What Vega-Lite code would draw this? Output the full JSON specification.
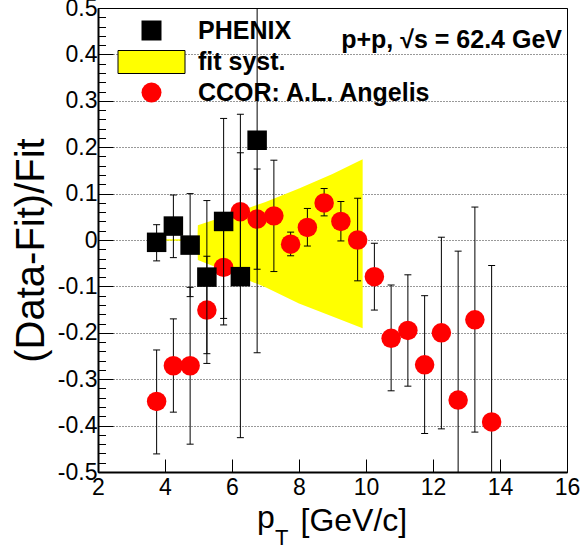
{
  "$schema": "https://vega.github.io/schema/vega-lite/v6.json",
  "width": 469,
  "height": 464,
  "autosize": {"type": "none"},
  "padding": {"left": 98, "top": 8, "right": 15, "bottom": 80},
  "background": "white",
  "config": {
    "view": {"stroke": "#000", "strokeWidth": 1},
    "font": "Liberation Sans",
    "legend": {
      "orient": "none",
      "legendX": 41,
      "legendY": 10,
      "padding": 0,
      "symbolSize": 400,
      "symbolOpacity": 1,
      "symbolStrokeWidth": 0,
      "labelFont": "Liberation Sans",
      "labelFontSize": 25,
      "labelFontWeight": "bold",
      "labelColor": "#000",
      "labelOffset": 34,
      "labelLimit": 0,
      "rowPadding": 4.5
    }
  },
  "resolve": {"axis": {"y": "independent"}},
  "datasets": {
    "phenix": [
      {"series": "PHENIX", "pT": 3.75, "val": -0.005, "lo": -0.045, "hi": 0.033},
      {"series": "PHENIX", "pT": 4.25, "val": 0.030, "lo": -0.038, "hi": 0.097},
      {"series": "PHENIX", "pT": 4.75, "val": -0.011, "lo": -0.122, "hi": 0.100},
      {"series": "PHENIX", "pT": 5.25, "val": -0.080, "lo": -0.245, "hi": 0.085},
      {"series": "PHENIX", "pT": 5.75, "val": 0.040, "lo": -0.183, "hi": 0.262},
      {"series": "PHENIX", "pT": 6.25, "val": -0.079, "lo": -0.426, "hi": 0.271},
      {"series": "PHENIX", "pT": 6.75, "val": 0.215, "lo": -0.243, "hi": 0.673}
    ],
    "ccor": [
      {"series": "CCOR: A.L. Angelis", "pT": 3.75, "val": -0.348, "lo": -0.461, "hi": -0.237},
      {"series": "CCOR: A.L. Angelis", "pT": 4.25, "val": -0.271, "lo": -0.371, "hi": -0.170},
      {"series": "CCOR: A.L. Angelis", "pT": 4.75, "val": -0.271, "lo": -0.440, "hi": -0.102},
      {"series": "CCOR: A.L. Angelis", "pT": 5.25, "val": -0.151, "lo": -0.266, "hi": -0.035},
      {"series": "CCOR: A.L. Angelis", "pT": 5.75, "val": -0.059, "lo": -0.169, "hi": 0.051},
      {"series": "CCOR: A.L. Angelis", "pT": 6.25, "val": 0.061, "lo": -0.066, "hi": 0.188},
      {"series": "CCOR: A.L. Angelis", "pT": 6.75, "val": 0.045, "lo": -0.063, "hi": 0.153},
      {"series": "CCOR: A.L. Angelis", "pT": 7.25, "val": 0.052, "lo": -0.068, "hi": 0.172},
      {"series": "CCOR: A.L. Angelis", "pT": 7.75, "val": -0.009, "lo": -0.034, "hi": 0.017},
      {"series": "CCOR: A.L. Angelis", "pT": 8.25, "val": 0.027, "lo": -0.013, "hi": 0.068},
      {"series": "CCOR: A.L. Angelis", "pT": 8.75, "val": 0.080, "lo": 0.052, "hi": 0.111},
      {"series": "CCOR: A.L. Angelis", "pT": 9.25, "val": 0.040, "lo": -0.002, "hi": 0.083},
      {"series": "CCOR: A.L. Angelis", "pT": 9.75, "val": 0.000, "lo": -0.088, "hi": 0.090},
      {"series": "CCOR: A.L. Angelis", "pT": 10.25, "val": -0.079, "lo": -0.151, "hi": -0.007},
      {"series": "CCOR: A.L. Angelis", "pT": 10.75, "val": -0.212, "lo": -0.325, "hi": -0.097},
      {"series": "CCOR: A.L. Angelis", "pT": 11.25, "val": -0.195, "lo": -0.315, "hi": -0.075},
      {"series": "CCOR: A.L. Angelis", "pT": 11.75, "val": -0.269, "lo": -0.417, "hi": -0.120},
      {"series": "CCOR: A.L. Angelis", "pT": 12.25, "val": -0.200, "lo": -0.407, "hi": 0.006},
      {"series": "CCOR: A.L. Angelis", "pT": 12.75, "val": -0.345, "lo": -0.666, "hi": -0.024},
      {"series": "CCOR: A.L. Angelis", "pT": 13.25, "val": -0.172, "lo": -0.414, "hi": 0.071},
      {"series": "CCOR: A.L. Angelis", "pT": 13.75, "val": -0.392, "lo": -0.730, "hi": -0.055}
    ],
    "band": [
      {"series": "fit syst.", "pT": 4.0, "lo": -0.0015, "hi": 0.0015},
      {"series": "fit syst.", "pT": 4.97, "lo": -0.0015, "hi": 0.0015},
      {"series": "fit syst.", "pT": 4.98, "lo": -0.043, "hi": 0.032},
      {"series": "fit syst.", "pT": 6.0, "lo": -0.072, "hi": 0.056},
      {"series": "fit syst.", "pT": 7.0, "lo": -0.102, "hi": 0.082},
      {"series": "fit syst.", "pT": 8.0, "lo": -0.137, "hi": 0.111},
      {"series": "fit syst.", "pT": 9.0, "lo": -0.165, "hi": 0.142},
      {"series": "fit syst.", "pT": 9.9, "lo": -0.190, "hi": 0.174}
    ]
  },
  "layer": [
    {
      "data": {"name": "band"},
      "mark": {"type": "area", "opacity": 1, "clip": true},
      "encoding": {
        "x": {
          "field": "pT",
          "type": "quantitative",
          "scale": {"domain": [2, 16], "nice": false, "zero": false},
          "axis": {
            "values": [2, 2.5, 3, 3.5, 4, 4.5, 5, 5.5, 6, 6.5, 7, 7.5, 8, 8.5, 9, 9.5, 10, 10.5, 11, 11.5, 12, 12.5, 13, 13.5, 14, 14.5, 15, 15.5, 16],
            "labelExpr": "datum.value % 2 == 0 ? format(datum.value, 'd') : ''",
            "labelFont": "Liberation Sans",
            "labelFontSize": 23,
            "labelColor": "#000",
            "labelPadding": 17,
            "labelOverlap": false,
            "labelFlush": false,
            "labelBound": false,
            "domainColor": "#000",
            "domainWidth": 2,
            "tickColor": "#000",
            "tickWidth": 1,
            "tickSize": {"condition": {"test": "datum.value % 2 == 0", "value": -13}, "value": -6.5},
            "grid": false,
            "title": "[GeV/c]",
            "titleFont": "Liberation Sans",
            "titleFontSize": 32,
            "titleFontWeight": "normal",
            "titleColor": "#000",
            "titleX": 202,
            "titleY": 58,
            "titleAlign": "left",
            "titleBaseline": "alphabetic"
          }
        },
        "y": {
          "field": "lo",
          "type": "quantitative",
          "scale": {"domain": [-0.5, 0.5], "nice": false, "zero": false},
          "axis": {
            "orient": "left",
            "values": [-0.5, -0.4, -0.3, -0.2, -0.1, 0, 0.1, 0.2, 0.3, 0.4, 0.5],
            "labelExpr": "replace(format(datum.value, '.1~f'), '\u2212', '-')",
            "labelFont": "Liberation Sans",
            "labelFontSize": 23,
            "labelColor": "#000",
            "labelPadding": 16,
            "labelOverlap": false,
            "labelFlush": false,
            "labelBound": false,
            "domainColor": "#000",
            "domainWidth": 2,
            "tickColor": "#000",
            "tickWidth": 1,
            "tickSize": -15,
            "grid": true,
            "gridColor": "#000",
            "gridDash": [1, 2],
            "gridWidth": 1,
            "gridOpacity": 0.8,
            "title": "(Data-Fit)/Fit",
            "titleFont": "Liberation Sans",
            "titleFontSize": 40,
            "titleFontWeight": "normal",
            "titleColor": "#000",
            "titleX": -55,
            "titleY": 242,
            "titleAlign": "center",
            "titleBaseline": "alphabetic"
          }
        },
        "y2": {"field": "hi"},
        "color": {
          "field": "series",
          "type": "nominal",
          "scale": {"domain": ["PHENIX", "fit syst.", "CCOR: A.L. Angelis"], "range": ["#000000", "#ffff00", "#ff0000"]},
          "legend": {
            "title": null,
            "encode": {"symbols": {"update": {"stroke": {"signal": "datum.value === 'fit syst.' ? '#000' : 'transparent'"}, "strokeWidth": {"value": 1}}}}
          }
        }
      }
    },
    {
      "data": {"name": "ccor"},
      "mark": {"type": "rule", "color": "#000", "strokeWidth": 1, "clip": true},
      "encoding": {
        "x": {"field": "pT", "type": "quantitative"},
        "y": {
          "field": "lo",
          "type": "quantitative",
          "axis": {
            "orient": "left",
            "values": [-0.48, -0.46, -0.44, -0.42, -0.38, -0.36, -0.34, -0.32, -0.28, -0.26, -0.24, -0.22, -0.18, -0.16, -0.14, -0.12, -0.08, -0.06, -0.04, -0.02, 0.02, 0.04, 0.06, 0.08, 0.12, 0.14, 0.16, 0.18, 0.22, 0.24, 0.26, 0.28, 0.32, 0.34, 0.36, 0.38, 0.42, 0.44, 0.46, 0.48],
            "labels": false,
            "domain": false,
            "grid": false,
            "tickColor": "#000",
            "tickWidth": 1,
            "tickSize": -7.5,
            "title": null
          }
        },
        "y2": {"field": "hi"}
      }
    },
    {
      "data": {"name": "ccor"},
      "mark": {"type": "tick", "orient": "horizontal", "color": "#000", "size": 7, "thickness": 1, "opacity": 1, "clip": true},
      "encoding": {"x": {"field": "pT", "type": "quantitative"}, "y": {"field": "lo", "type": "quantitative", "axis": null}}
    },
    {
      "data": {"name": "ccor"},
      "mark": {"type": "tick", "orient": "horizontal", "color": "#000", "size": 7, "thickness": 1, "opacity": 1, "clip": true},
      "encoding": {"x": {"field": "pT", "type": "quantitative"}, "y": {"field": "hi", "type": "quantitative", "axis": null}}
    },
    {
      "data": {"name": "ccor"},
      "mark": {"type": "point", "filled": true, "size": 380, "opacity": 1, "strokeWidth": 0},
      "encoding": {
        "x": {"field": "pT", "type": "quantitative"},
        "y": {"field": "val", "type": "quantitative", "axis": null},
        "color": {"field": "series", "type": "nominal"},
        "shape": {
          "field": "series",
          "type": "nominal",
          "scale": {"domain": ["PHENIX", "fit syst.", "CCOR: A.L. Angelis"], "range": ["square", "M-3.35,-1.15H3.35V1.15H-3.35Z", "circle"]},
          "legend": {"title": null}
        }
      }
    },
    {
      "data": {"name": "phenix"},
      "mark": {"type": "rule", "color": "#000", "strokeWidth": 1, "clip": true},
      "encoding": {"x": {"field": "pT", "type": "quantitative"}, "y": {"field": "lo", "type": "quantitative", "axis": null}, "y2": {"field": "hi"}}
    },
    {
      "data": {"name": "phenix"},
      "mark": {"type": "tick", "orient": "horizontal", "color": "#000", "size": 7, "thickness": 1, "opacity": 1, "clip": true},
      "encoding": {"x": {"field": "pT", "type": "quantitative"}, "y": {"field": "lo", "type": "quantitative", "axis": null}}
    },
    {
      "data": {"name": "phenix"},
      "mark": {"type": "tick", "orient": "horizontal", "color": "#000", "size": 7, "thickness": 1, "opacity": 1, "clip": true},
      "encoding": {"x": {"field": "pT", "type": "quantitative"}, "y": {"field": "hi", "type": "quantitative", "axis": null}}
    },
    {
      "data": {"name": "phenix"},
      "mark": {"type": "point", "filled": true, "size": 380, "opacity": 1, "strokeWidth": 0},
      "encoding": {
        "x": {"field": "pT", "type": "quantitative"},
        "y": {"field": "val", "type": "quantitative", "axis": null},
        "color": {"field": "series", "type": "nominal"},
        "shape": {"field": "series", "type": "nominal"}
      }
    },
    {
      "data": {"values": [{"label": "p+p, \u221as = 62.4 GeV", "px": 15.85, "py": 0.414}]},
      "mark": {"type": "text", "font": "Liberation Sans", "fontSize": 25, "fontWeight": "bold", "align": "right", "baseline": "alphabetic", "color": "#000"},
      "encoding": {"x": {"field": "px", "type": "quantitative"}, "y": {"field": "py", "type": "quantitative", "axis": null}, "text": {"field": "label"}}
    },
    {
      "data": {"values": [{"label": "p", "px": 6.746, "py": -0.621}]},
      "mark": {"type": "text", "font": "Liberation Sans", "fontSize": 32, "align": "left", "baseline": "alphabetic", "color": "#000"},
      "encoding": {"x": {"field": "px", "type": "quantitative"}, "y": {"field": "py", "type": "quantitative", "axis": null}, "text": {"field": "label"}}
    },
    {
      "data": {"values": [{"label": "T", "px": 7.28, "py": -0.657}]},
      "mark": {"type": "text", "font": "Liberation Sans", "fontSize": 22, "align": "left", "baseline": "alphabetic", "color": "#000"},
      "encoding": {"x": {"field": "px", "type": "quantitative"}, "y": {"field": "py", "type": "quantitative", "axis": null}, "text": {"field": "label"}}
    }
  ]
}
